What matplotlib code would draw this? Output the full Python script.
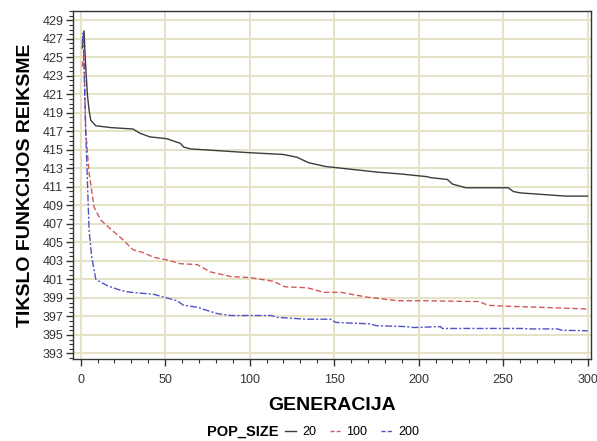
import matplotlib
matplotlib.use("Agg")
import matplotlib.pyplot as plt
from matplotlib.ticker import MultipleLocator
from matplotlib.lines import Line2D

# Data
gen_20 = [1, 2, 3, 4, 5, 6, 9, 18, 31, 35, 41, 51, 59, 61, 65, 99, 120, 128, 135, 145,
          160, 175, 189, 205, 207, 217, 220, 228, 253, 256, 260, 287, 300]
val_20 = [426.0, 427.9, 424.0, 421.0, 419.3, 418.2, 417.6, 417.4, 417.25, 416.8, 416.4,
          416.2, 415.7, 415.3, 415.1, 414.7, 414.5, 414.2, 413.6, 413.2,
          412.9, 412.6, 412.4, 412.1, 412.0, 411.8, 411.3, 410.9, 410.9, 410.5, 410.35, 410.0, 410.0]

gen_100 = [1, 2, 3, 5, 8, 12, 18, 25, 31, 37, 43, 51, 59, 69, 77, 89, 100, 114, 121,
           134, 144, 154, 169, 183, 187, 201, 236, 241, 252, 270, 300]
val_100 = [424.0, 425.5, 417.1, 412.5, 408.8, 407.4, 406.4, 405.3, 404.2, 403.9, 403.4,
           403.1, 402.7, 402.6, 401.8, 401.3, 401.2, 400.8, 400.2,
           400.1, 399.6, 399.6, 399.1, 398.8, 398.7, 398.7, 398.6, 398.2, 398.1, 398.0, 397.8]

gen_200 = [1, 1.5, 3, 5, 6.5, 9, 16, 24, 30, 43, 51, 57, 61, 69, 73, 81, 89, 113, 116,
           134, 148, 151, 171, 175, 193, 197, 213, 214, 262, 265, 282, 285, 300]
val_200 = [426.5, 427.6, 417.1, 406.4, 403.5, 401.0, 400.3, 399.8, 399.6, 399.4, 399.0,
           398.7, 398.2, 398.0, 397.75, 397.3, 397.1, 397.1, 396.9,
           396.7, 396.7, 396.35, 396.2, 396.0, 395.9, 395.8, 395.9, 395.7, 395.7, 395.65,
           395.65, 395.5, 395.45]

x_ticks = [0, 50, 100, 150, 200, 250, 300]
y_ticks = list(range(393, 430, 2))
legend_labels = ["20", "100", "200"]

plt.rcParams['font.family'] = ['Liberation Sans', 'DejaVu Sans']

fig = plt.figure(figsize=(5.97, 4.41), dpi=100)
ax = fig.add_axes([73/597, 1 - 359/441, (591 - 73)/597, (359 - 11)/441])

grid_c = '#e6e2c6'
for yv in y_ticks:
    ax.axhline(yv, color=grid_c, lw=1.4, zorder=0)
for xv in x_ticks:
    ax.axvline(xv, color=grid_c, lw=1.4, zorder=0)

c20, c100, c200 = '#3c3c3c', '#d05a5a', '#5252c8'
ax.plot(gen_20, val_20, color=c20, lw=1.0, solid_joinstyle='miter')
ax.plot(gen_100, val_100, color=c100, lw=1.0, dashes=(4, 2))
ax.plot(gen_200, val_200, color=c200, lw=1.0, dashes=(5, 1.5, 1.5, 1.5))

ax.set_xlim(-4.5, 302)
ax.set_ylim(392.4, 430.0)
ax.set_xticks(x_ticks)
ax.set_yticks(y_ticks)
ax.xaxis.set_minor_locator(MultipleLocator(10))
ax.yaxis.set_minor_locator(MultipleLocator(0.5))
ax.tick_params(axis='both', which='major', direction='out', length=5, width=1,
               color='#333333', labelcolor='#333333', labelsize=9)
ax.tick_params(axis='both', which='minor', direction='out', length=3, width=0.8,
               color='#333333')
ax.tick_params(axis='x', pad=6)
ax.tick_params(axis='y', pad=2)
for s in ax.spines.values():
    s.set_color('#333333')
    s.set_linewidth(1.0)

ax.set_xlabel('GENERACIJA', fontsize=14, fontweight='bold', labelpad=8)
ax.set_ylabel('TIKSLO FUNKCIJOS REIKSME', fontsize=14, fontweight='bold', labelpad=6)

fig.text(207/597, 1 - 432/441, 'POP_SIZE', fontsize=10.5, fontweight='bold',
         ha='left', va='center')
handles = [Line2D([], [], color=c20, lw=1.0),
           Line2D([], [], color=c100, lw=1.0, dashes=(3, 1.5)),
           Line2D([], [], color=c200, lw=1.0, dashes=(3, 1.5))]
fig.legend(handles, legend_labels, loc='center left',
           bbox_to_anchor=(285/597, 1 - 432/441), ncol=3, frameon=False,
           fontsize=9, handlelength=0.85, handletextpad=0.5, columnspacing=1.1,
           borderpad=0, borderaxespad=0)

fig.savefig('out.png', dpi=100)
